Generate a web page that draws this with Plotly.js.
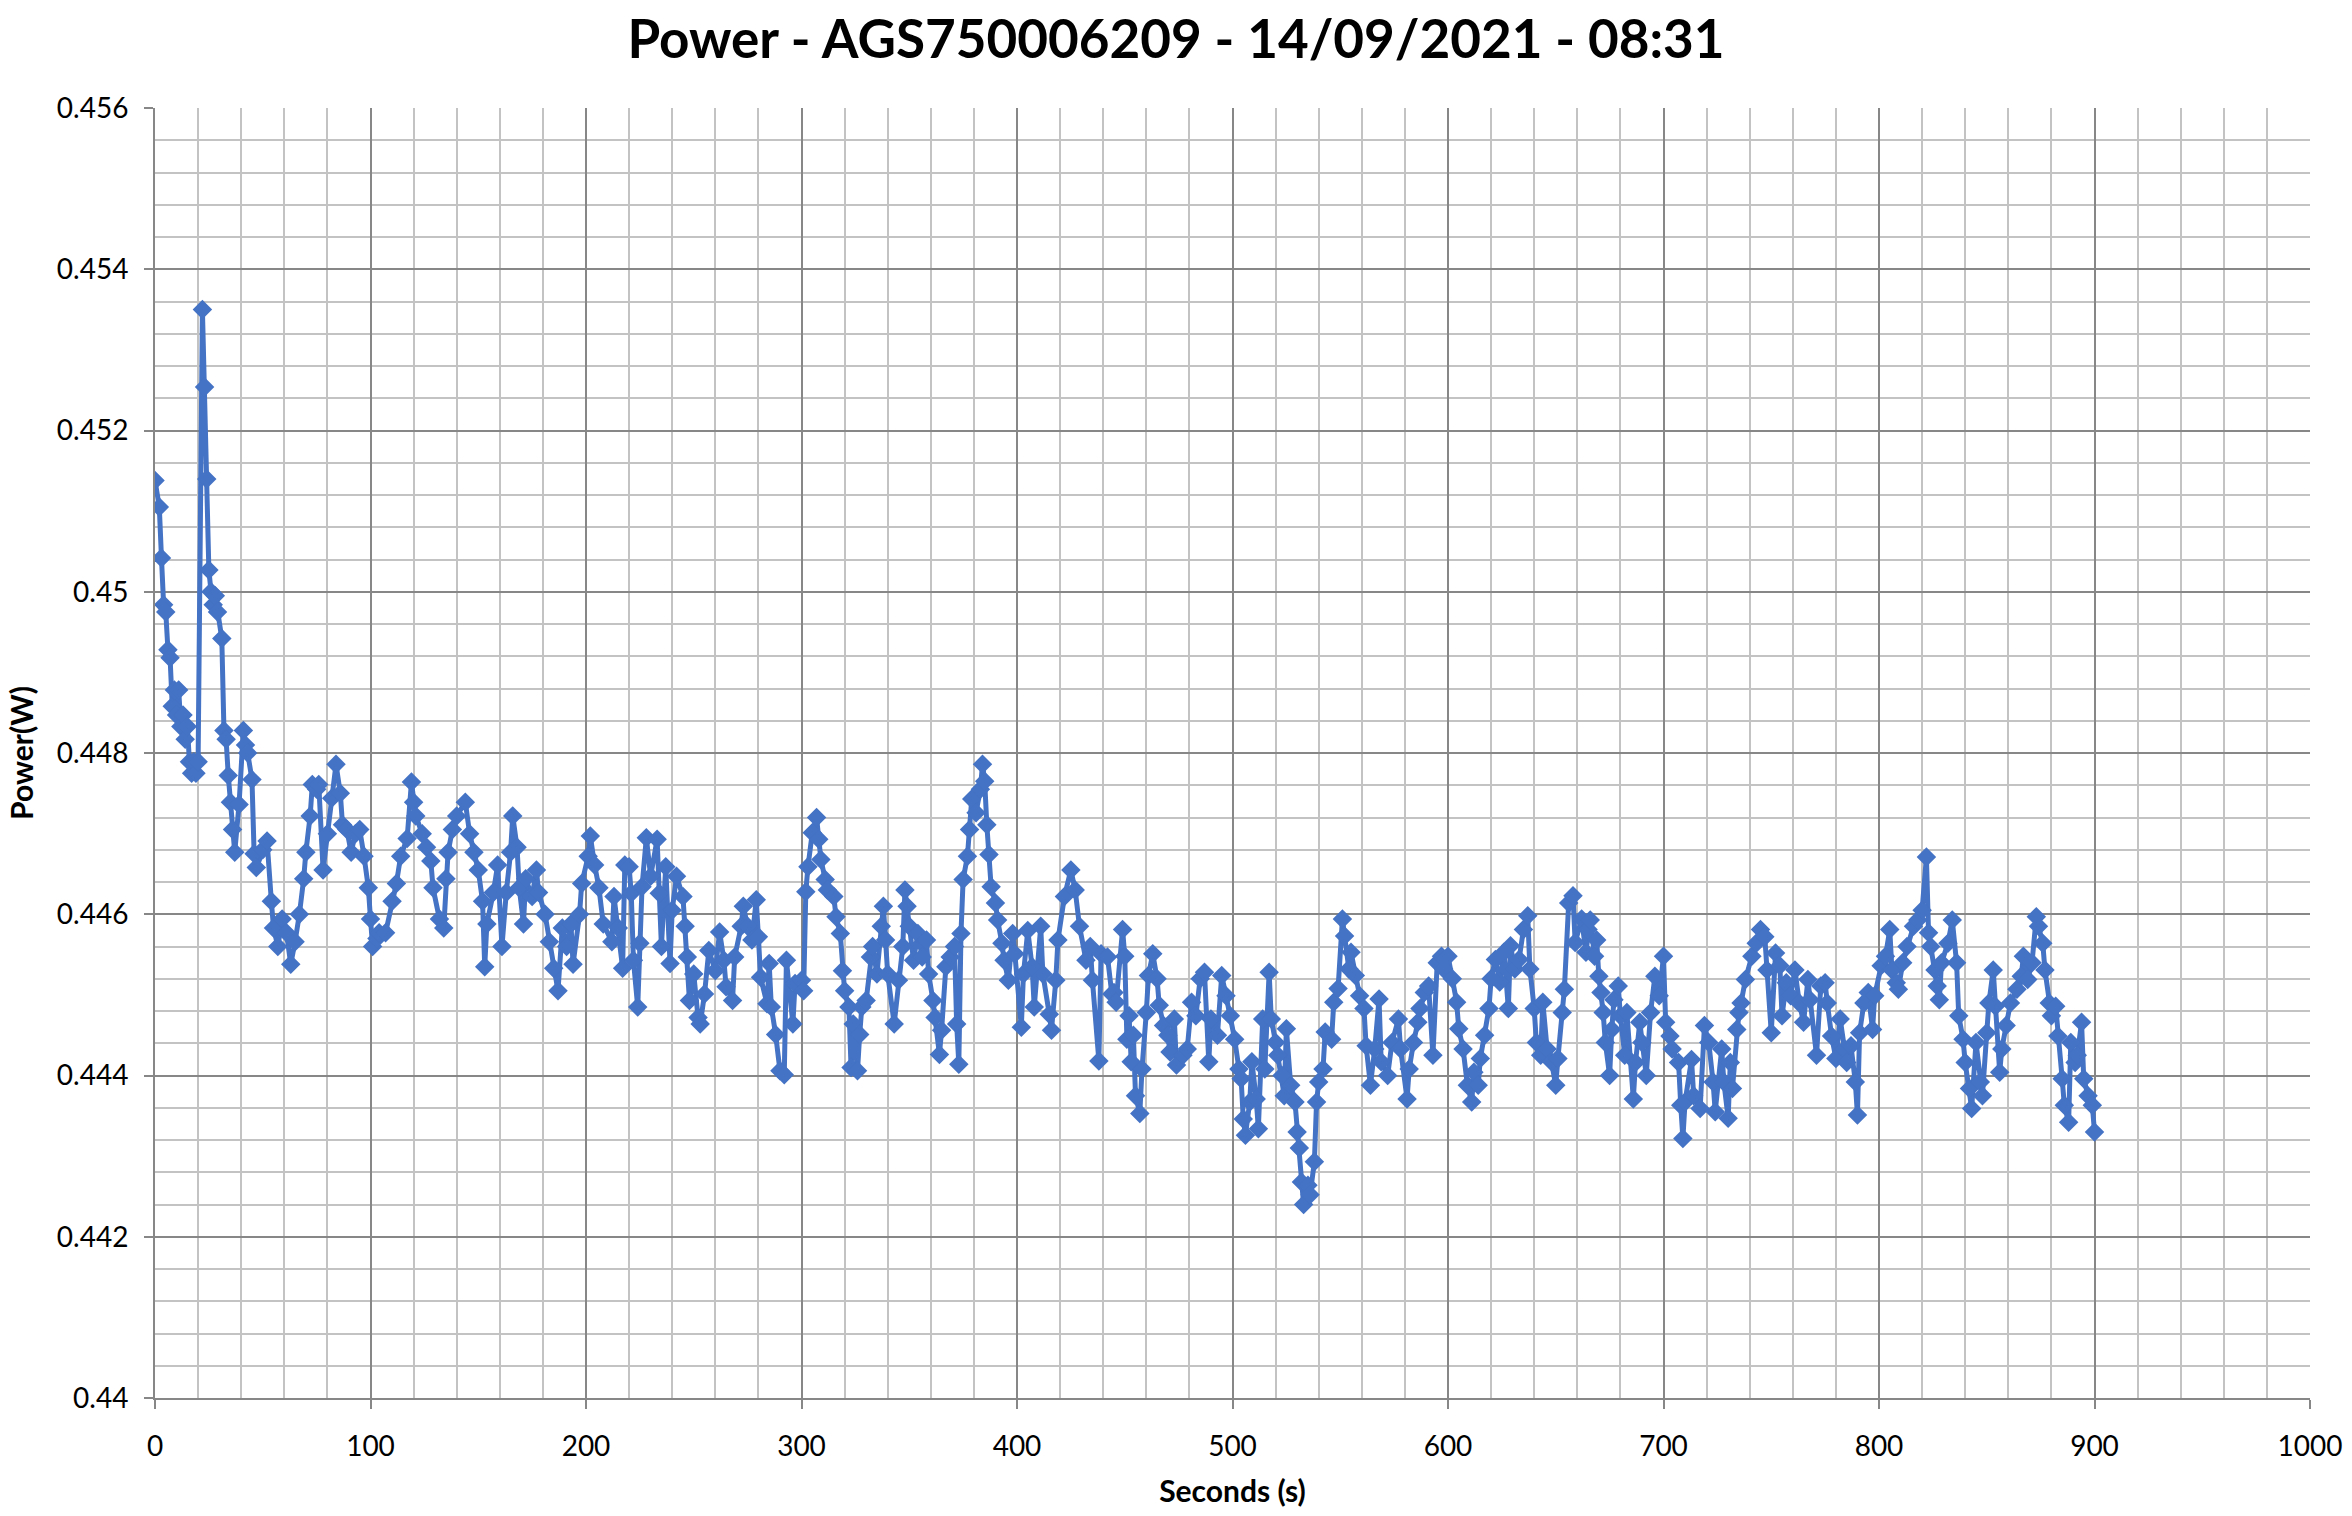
<!DOCTYPE html>
<html>
<head>
<meta charset="utf-8">
<script src="https://cdn.plot.ly/plotly-3.0.1.min.js"></script>
<style>
  html, body { margin: 0; padding: 0; background: #ffffff; }
  #chart { width: 2352px; height: 1516px; }
</style>
</head>
<body>
<div id="chart"></div>
<script>
// ---- Data (seconds, power in W) ----
const seg1Seconds = [0,2,3,4,5,6,7,8,9,10,11,12,13,14,15,16,17,18,19,20,22,23,24,25,26,27,28,29,31,32,33,34,35,36,37,39,41,42,43,45,46,47,50,52,54,55,57,59,61,63,65,67,69,70,72,73,75,76,78,80,82,84,86,87,89,91,93,95,97,99,100,101,103,104,107,110,112,114,117,119,120,121,124,126,128,129,132,134,135,136,138,140,144,146,148,150,152,153,154,157,159,161,163,165,166,168,169,171,172,175,177,178,181,183,185,187,189,191,193,194,197,198,201,202,204,206,208,212,213,215,217,218];
const seg1Power = [0.45138,0.45105,0.45042,0.44984,0.44975,0.44928,0.44918,0.44858,0.44878,0.44847,0.44878,0.44833,0.44847,0.44817,0.44833,0.44789,0.44775,0.44789,0.44775,0.44789,0.4535,0.45254,0.4514,0.45027,0.45,0.44984,0.44995,0.44975,0.44942,0.44828,0.44817,0.44772,0.44739,0.44705,0.44677,0.44736,0.44828,0.4481,0.448,0.44767,0.44675,0.44658,0.4468,0.44691,0.44616,0.44583,0.4456,0.44594,0.44577,0.44538,0.44566,0.446,0.44644,0.44677,0.44722,0.44761,0.44755,0.44761,0.44655,0.447,0.44744,0.44786,0.4475,0.44711,0.44705,0.44677,0.447,0.44705,0.44672,0.44633,0.44594,0.4456,0.4457,0.44577,0.44577,0.44616,0.44638,0.44672,0.44694,0.44764,0.44739,0.44722,0.447,0.44683,0.44666,0.44633,0.44594,0.44583,0.44644,0.44677,0.44705,0.44722,0.44739,0.447,0.44677,0.44655,0.44616,0.44535,0.44588,0.44627,0.44661,0.4456,0.44627,0.44677,0.44722,0.44683,0.44633,0.44588,0.44644,0.44622,0.44655,0.44627,0.446,0.44566,0.44533,0.44505,0.44583,0.4456,0.44588,0.44538,0.446,0.44638,0.44672,0.44697,0.44661,0.44633,0.44588,0.44566,0.44622,0.44583,0.44533,0.44661];

const seg2Seconds = [220,221,222,224,225,226,228,230,233,234,235,237,239,240,242,245,246,247,248,250,252,253,255,257,260,262,264,265,268,269,272,273,275,277,279,280,281,284,285,286,288,290,292,293,296,297,300,301,302,303,305,307,308,309,311,312,315,316,318,319,320,322,323,324,326,327,328,330,332,333,335,337,338,339,340,343,345,347,348,349,350,352,354,356,358,359,361,362,364,365,367,369,371,372,373,374,375,377,378,379,381,383,384,385,386,387,388,390,391,393,394,396,398,399,402,403,405,407,408,411,412,415,416,418,419,422,425,427,429,432,434,435,438,439,442,444];
const seg2Power = [0.44659,0.44626,0.44543,0.44485,0.44564,0.44634,0.44695,0.44647,0.44693,0.44626,0.4456,0.44659,0.44539,0.44605,0.44647,0.44622,0.44585,0.44547,0.44493,0.44526,0.44472,0.44464,0.44501,0.44555,0.4453,0.44578,0.44543,0.4451,0.44493,0.44547,0.44585,0.4461,0.44585,0.44568,0.44618,0.44572,0.44522,0.44489,0.44539,0.44485,0.44451,0.44406,0.44401,0.44543,0.44464,0.44514,0.44518,0.44505,0.44628,0.44659,0.44701,0.4472,0.44693,0.44668,0.44643,0.4463,0.44622,0.44597,0.44576,0.4453,0.44505,0.44485,0.4441,0.44464,0.44406,0.44451,0.44485,0.44493,0.44547,0.4456,0.44526,0.44585,0.4461,0.44568,0.44526,0.44464,0.44518,0.4456,0.4463,0.4461,0.44585,0.44543,0.44576,0.44547,0.44568,0.44526,0.44493,0.44472,0.44426,0.44456,0.44535,0.44547,0.4456,0.44464,0.44414,0.44576,0.44643,0.44672,0.44705,0.44743,0.44726,0.44755,0.44786,0.44765,0.44711,0.44674,0.44634,0.44614,0.44593,0.44564,0.44543,0.44518,0.44576,0.44551,0.4446,0.44526,0.4458,0.44535,0.44485,0.44585,0.44526,0.44476,0.44456,0.44518,0.44568,0.44622,0.44655,0.4463,0.44585,0.44543,0.4456,0.44518,0.44418,0.44551,0.44547,0.44501];

const seg3Seconds = [445,446,449,450,451,452,453,454,455,457,458,460,461,463,465,466,468,470,471,473,474,477,479,481,483,485,487,489,490,493,495,497,499,501,503,504,505,506,508,509,511,512,514,515,517,518,520,521,523,524,525,527,529,530,531,532,533,535,536,538,539,540,542,543,546,547,549,551,552,554,555,557,559,561,562,564,566,568,569,572,574,577,578,581,582,584,586,587,589,591,593,595,597,598,600,602,604,605,607,609,611,612,614,615,617,619,620,622,624,626,628,629,631,633,635,637,638,640,641,643,644,646,648,650,651,653,654,656,658,659,662,664];
const seg3Power = [0.44503,0.44491,0.44581,0.44548,0.44445,0.44474,0.44417,0.4445,0.44375,0.44353,0.44408,0.44478,0.44524,0.44551,0.4452,0.44487,0.44462,0.4445,0.44429,0.4447,0.44413,0.44425,0.44433,0.44491,0.44474,0.4452,0.44528,0.44417,0.4447,0.4445,0.44524,0.44499,0.44474,0.44445,0.44408,0.44396,0.44346,0.44326,0.44367,0.44417,0.44371,0.44334,0.4447,0.44408,0.44528,0.4447,0.44441,0.44425,0.444,0.44375,0.44458,0.44388,0.44367,0.4433,0.4431,0.44268,0.4424,0.44264,0.44252,0.44293,0.44367,0.44392,0.44408,0.44454,0.44445,0.44491,0.44508,0.44594,0.44573,0.44532,0.44553,0.44524,0.44499,0.44483,0.44437,0.44388,0.44433,0.44495,0.44417,0.444,0.44441,0.4447,0.44433,0.44371,0.44408,0.44441,0.44466,0.44483,0.44503,0.44511,0.44425,0.4454,0.44548,0.44532,0.44548,0.4452,0.44491,0.44458,0.44433,0.44388,0.44367,0.44404,0.44388,0.44421,0.4445,0.44483,0.4452,0.44544,0.44516,0.44553,0.44483,0.44561,0.44532,0.44544,0.44581,0.44598,0.44532,0.44483,0.44441,0.44425,0.44491,0.44433,0.44417,0.44388,0.44421,0.44478,0.44507,0.44614,0.44623,0.44565,0.44594,0.44553];

const seg4Seconds = [665,666,668,669,670,671,672,673,675,676,677,679,680,682,683,686,687,689,690,692,694,696,698,700,701,703,704,707,708,709,710,713,714,717,719,721,723,724,727,728,730,731,732,734,735,736,738,741,743,745,747,748,750,752,754,755,757,759,761,763,765,767,768,771,773,775,776,778,780,782,784,785,787,789,790,791,793,795,797,798,801,803,805,806,808,809,811,813,816,818,820,822,823,824,826,827,828,829,832,834,836,837,839,840,842,843,845,847,848,850,851,853,854,856,857,859,861,864,866,867,869,871,873,874,876,877,879,880,882,883,885,886,888,889,891,892,894,895,897,899,900];
const seg4Power = [0.44581,0.44593,0.44548,0.44568,0.44523,0.44503,0.44478,0.44441,0.444,0.44457,0.44494,0.44511,0.44474,0.44425,0.44478,0.44371,0.44416,0.44466,0.44441,0.444,0.44478,0.44523,0.44499,0.44548,0.44466,0.44449,0.44433,0.44416,0.44363,0.44322,0.44367,0.4442,0.44375,0.44359,0.44462,0.44441,0.44392,0.44355,0.44433,0.44392,0.44347,0.44416,0.44384,0.44457,0.44478,0.4449,0.44519,0.44548,0.44564,0.44581,0.44572,0.44531,0.44453,0.44552,0.44536,0.44474,0.44515,0.44499,0.44531,0.4449,0.44466,0.44519,0.44494,0.44425,0.44511,0.44515,0.4449,0.44449,0.44421,0.4447,0.44433,0.44416,0.44437,0.44392,0.44351,0.44453,0.4449,0.44503,0.44457,0.44499,0.44536,0.44548,0.44581,0.44531,0.44515,0.44507,0.4454,0.4456,0.44585,0.44593,0.44605,0.44671,0.44577,0.4456,0.44531,0.44511,0.44494,0.4454,0.44564,0.44593,0.4454,0.44474,0.44445,0.44416,0.44384,0.44359,0.44441,0.44392,0.44375,0.44453,0.4449,0.44531,0.44486,0.44404,0.44433,0.44462,0.4449,0.44507,0.44523,0.44548,0.44519,0.4454,0.44597,0.44585,0.44564,0.44531,0.4449,0.44474,0.44486,0.44449,0.44396,0.44363,0.44342,0.44441,0.44416,0.44425,0.44466,0.44396,0.44375,0.44363,0.4433];

const xTickValues = [0,100,200,300,400,500,600,700,800,900,1000];
const xTickLabels = ['0','100','200','300','400','500','600','700','800','900','1000'];
const yTickValues = [0.44,0.442,0.444,0.446,0.448,0.45,0.452,0.454,0.456];
const yTickLabels = ['0.44','0.442','0.444','0.446','0.448','0.45','0.452','0.454','0.456'];

const chartTitle = 'Power - AGS750006209 - 14/09/2021 - 08:31';
const xTitle = 'Seconds (s)';
const yTitle = 'Power(W)';

// ---- Build the series ----
const seconds = seg1Seconds.concat(seg2Seconds, seg3Seconds, seg4Seconds);
const power = seg1Power.concat(seg2Power, seg3Power, seg4Power);

const FONT = 'Lato, "Open Sans", "Liberation Sans", sans-serif';
const blue = '#4472C4';
const majorGrid = '#878787';
const minorGrid = '#c3c3c3';

const trace = {
  type: 'scatter',
  mode: 'lines+markers',
  x: seconds,
  y: power,
  line: { color: blue, width: 5 },
  marker: { symbol: 'diamond', size: 15, color: blue, line: { width: 0 } },
  hoverinfo: 'x+y'
};

const layout = {
  width: 2352,
  height: 1516,
  paper_bgcolor: '#ffffff',
  plot_bgcolor: '#ffffff',
  showlegend: false,
  margin: { l: 155, r: 42, t: 108, b: 118, pad: 0 },
  font: { family: FONT, color: '#000000', size: 28 },
  title: {
    text: '<b>' + chartTitle + '</b>',
    font: { family: FONT, size: 53, color: '#000000' },
    x: 0.5, xref: 'container', xanchor: 'center',
    y: 0.986, yref: 'container', yanchor: 'top'
  },
  xaxis: {
    range: [0, 1000],
    tickmode: 'array',
    tickvals: xTickValues,
    ticktext: xTickLabels,
    ticks: 'outside', ticklen: 9, tickwidth: 2, tickcolor: majorGrid,
    ticklabelstandoff: 13,
    showline: true, linecolor: majorGrid, linewidth: 2,
    showgrid: true, gridcolor: majorGrid, gridwidth: 2,
    minor: { dtick: 20, showgrid: true, gridcolor: minorGrid, gridwidth: 2, ticks: '' },
    zeroline: false,
    tickfont: { family: FONT, size: 28, color: '#000000' },
    title: { text: '<b>' + xTitle + '</b>', font: { family: FONT, size: 30, color: '#000000' }, standoff: 20 }
  },
  yaxis: {
    range: [0.44, 0.456],
    tickmode: 'array',
    tickvals: yTickValues,
    ticktext: yTickLabels,
    ticks: 'outside', ticklen: 9, tickwidth: 2, tickcolor: majorGrid,
    ticklabelstandoff: 10,
    showline: true, linecolor: majorGrid, linewidth: 2,
    showgrid: true, gridcolor: majorGrid, gridwidth: 2,
    minor: { dtick: 0.0004, showgrid: true, gridcolor: minorGrid, gridwidth: 2, ticks: '' },
    zeroline: false,
    tickfont: { family: FONT, size: 28, color: '#000000' },
    title: { text: '<b>' + yTitle + '</b>', font: { family: FONT, size: 30, color: '#000000' }, standoff: 14 }
  }
};

Plotly.newPlot('chart', [trace], layout, { displayModeBar: false, staticPlot: true });
</script>
</body>
</html>
